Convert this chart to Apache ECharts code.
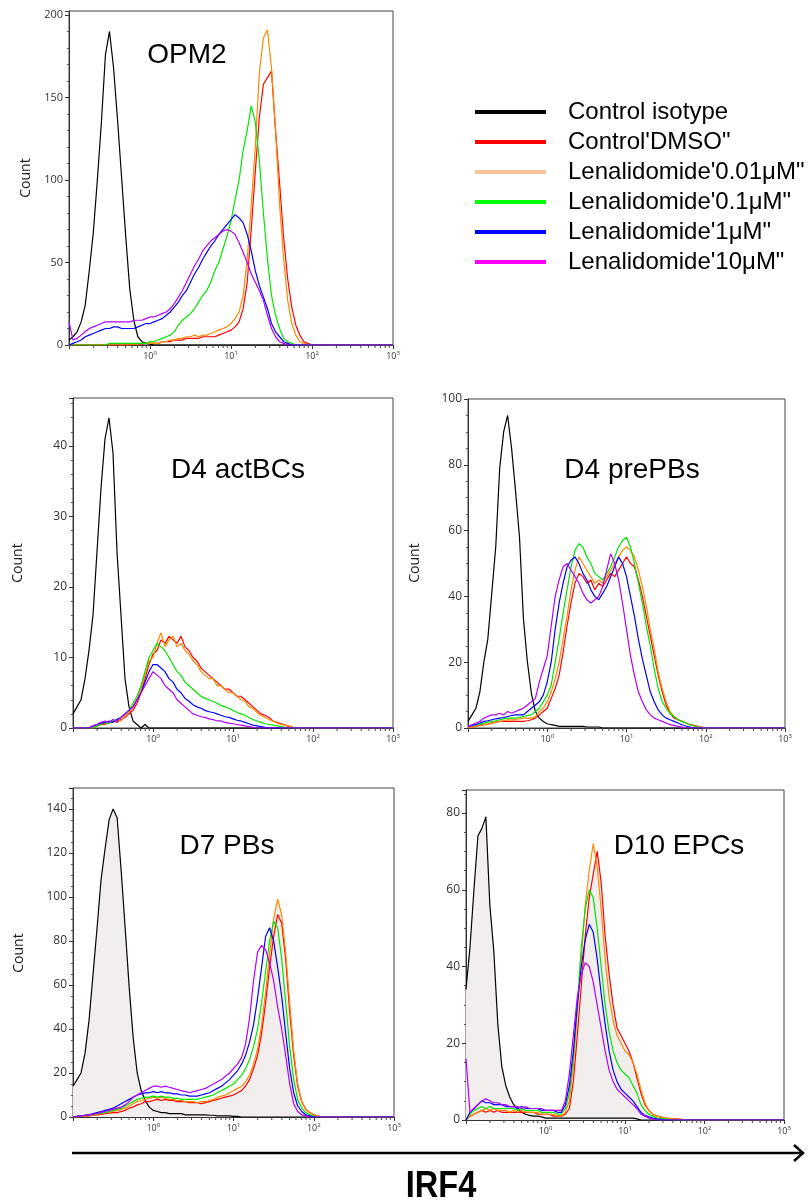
<!DOCTYPE html>
<html><head><meta charset="utf-8">
<script src="https://cdn.jsdelivr.net/npm/echarts@6/dist/echarts.min.js"></script>
<style>html,body{margin:0;padding:0;background:#fff}#c{width:808px;height:1203px}</style>
</head><body><div id="c"></div><script>
// x positions: log10(IRF4 intensity), shared by all histograms
const xLog = [
-1,-0.95,-0.9,-0.85,-0.8,-0.75,-0.7,-0.65,-0.6,-0.55,
-0.5,-0.45,-0.4,-0.35,-0.3,-0.25,-0.2,-0.15,-0.1,-0.05,
0,0.05,0.1,0.15,0.2,0.25,0.3,0.35,0.4,0.45,
0.5,0.55,0.6,0.65,0.7,0.75,0.8,0.85,0.9,0.95,
1,1.05,1.1,1.15,1.2,1.25,1.3,1.35,1.4,1.45,
1.5,1.55,1.6,1.65,1.7,1.75,1.8,1.85,1.9,1.95,
2,2.05,2.1,2.15,2.2,2.25,2.3,2.35,2.4,2.45,
2.5,2.55,2.6,2.65,2.7,2.75,2.8,2.85,2.9,2.95,3];

const seriesNames = ['Control isotype', 'Control\'DMSO"', 'Lenalidomide\'0.01\u03bcM"', 'Lenalidomide\'0.1\u03bcM"', 'Lenalidomide\'1\u03bcM"', 'Lenalidomide\'10\u03bcM"'];
const panelTitles = ['OPM2', 'D4 actBCs', 'D4 prePBs', 'D7 PBs', 'D10 EPCs'];
const decadeLabels = ['10', '10', '10', '10'];
const yMaxes = [202.4, 46.8, 100, 149.5, 86];
const yIntervals = [50, 10, 20, 20, 20];

// ---- OPM2 ----
const opmIso = [3,5,8,14,24,45,68,100,135,176, 190,168,136,101,66,34,15,5,2,1, 0.5,0,0,0,0,0,0,0,0,0, 0,0,0,0,0,0,0,0,0,0, 0,0,0,0,0,0,0,0,0,0, 0,0,0,0,0,0,0,0,0,0, 0,0,0,0,0,0,0,0,0,0, 0,0,0,0,0,0,0,0,0,0, 0];
const opmDmso = [0,0,0,0,0,0,0,0,0,0, 0,0,0,0,0,0,0.5,0.5,0.5,1, 1,1,1,2,2,2,3,3,3,4, 4,4,4,5,5,5,5,6,7,8, 9,11,14,22,38,70,105,138,158,162, 166,130,98,65,40,23,12,6,2,1, 0,0,0,0,0,0,0,0,0,0, 0,0,0,0,0,0,0,0,0,0, 0];
const opm001 = [0,0,0,0,0,0,0,0,0,0, 0,0,0,0,0,0,0.5,0.5,1,1, 1,1,1,2,2,3,3,4,4,5, 5,6,5,6,6,7,8,9,10,11, 13,16,20,30,52,85,120,165,186,191, 168,130,85,52,27,13,6,2,1,0, 0,0,0,0,0,0,0,0,0,0, 0,0,0,0,0,0,0,0,0,0, 0];
const opm01 = [0,0,0,0,0,0,0,0,0,0, 1,1,1,1,1,1,1,1,1,1, 2,2,3,4,5,6,8,12,15,17, 19,22,26,30,33,38,45,50,58,66, 75,88,100,118,130,145,135,112,80,52, 30,18,10,4,2,1,0,0,0,0, 0,0,0,0,0,0,0,0,0,0, 0,0,0,0,0,0,0,0,0,0, 0];
const opm1 = [0,1,2,3,5,6,7,8,9,10, 10,11,11,10,10,10,10,11,12,13, 13,14,15,16,18,20,23,26,30,33, 38,43,47,52,56,60,63,67,70,73, 76,79,77,74,67,57,45,36,29,22, 13,8,5,2,1,0,0,0,0,0, 0,0,0,0,0,0,0,0,0,0, 0,0,0,0,0,0,0,0,0,0, 0];
const opm10 = [14,3,4,6,8,10,11,12,13,14, 14,14,14,14,14,14,15,15,15,16, 17,17,18,19,20,22,25,29,33,38, 43,48,52,57,60,63,65,67,69,70, 69,67,62,56,50,43,38,33,27,18, 10,5,2,1,0,0,0,0,0,0, 0,0,0,0,0,0,0,0,0,0, 0,0,0,0,0,0,0,0,0,0, 0];

// ---- D4 actBCs ----
const actIso = [2,3,4,7,11,16,25,34,41,44, 39,25,16,7,3,1,0.5,0,0.5,0, 0,0,0,0,0,0,0,0,0,0, 0,0,0,0,0,0,0,0,0,0, 0,0,0,0,0,0,0,0,0,0, 0,0,0,0,0,0,0,0,0,0, 0,0,0,0,0,0,0,0,0,0, 0,0,0,0,0,0,0,0,0,0, 0];
const actDmso = [0,0,0,0,0,0,0.3,0.5,0.5,0.8, 1,0.8,1.2,1.5,2,2.5,3.5,5,7,9, 10.5,11,12.5,12,13,12.5,12,13,11.5,11, 10,9.5,8.5,8,7.5,7,6.5,6,5.5,5.5, 5,4.5,4.5,4,3.5,3,2.5,2,1.8,1.5, 1,0.8,0.6,0.4,0.2,0.1,0,0,0,0, 0,0,0,0,0,0,0,0,0,0, 0,0,0,0,0,0,0,0,0,0, 0];
const act001 = [0,0,0,0,0,0,0.5,0.8,0.6,0.9, 0.8,1.2,1,1.8,2.2,3,4,5.5,7.5,9.5, 10,12,13.5,11.5,12.5,13,11.5,12,11,10.5, 9.5,9,8,7.5,7,7,6,6,5.5,5, 5,4.5,4,3.8,3,2.8,2.2,1.8,1.5,1.2, 1,0.7,0.5,0.4,0.3,0.1,0,0,0,0, 0,0,0,0,0,0,0,0,0,0, 0,0,0,0,0,0,0,0,0,0, 0];
const act01 = [0,0,0,0,0,0,0.3,0.5,0.8,0.6, 1,1.2,1.5,2,2.5,3.5,4.5,6,8,10, 11,12,11.5,11,10,9,8,7.5,6.5,6, 5.5,5,4.5,4.2,4,3.8,3.5,3.2,3,2.8, 2.5,2.2,2,1.8,1.5,1.2,1,0.8,0.6,0.5, 0.4,0.3,0.2,0.1,0,0,0,0,0,0, 0,0,0,0,0,0,0,0,0,0, 0,0,0,0,0,0,0,0,0,0, 0];
const act1 = [0,0,0,0,0,0.3,0.5,0.7,0.8,1, 0.8,1.2,1.5,2,2.5,3,4,5,6.5,8, 9,9,8.5,8,7,6.5,5.5,5,4.2,3.8, 3.3,3,2.8,2.5,2.3,2.2,2,1.8,1.6,1.5, 1.3,1.1,1,0.8,0.6,0.4,0.3,0.2,0.1,0, 0,0,0,0,0,0,0,0,0,0, 0,0,0,0,0,0,0,0,0,0, 0,0,0,0,0,0,0,0,0,0, 0];
const act10 = [0,0,0,0,0,0.3,0.5,0.8,1,0.8, 1.2,1,1.5,2,2.5,3,4,5,6,7, 8,7.5,7,6,5.5,5,4,3.5,3,2.5, 2,1.8,1.6,1.5,1.3,1.2,1,1,0.8,0.7, 0.6,0.5,0.4,0.3,0.2,0.1,0,0,0,0, 0,0,0,0,0,0,0,0,0,0, 0,0,0,0,0,0,0,0,0,0, 0,0,0,0,0,0,0,0,0,0, 0];

// ---- D4 prePBs ----
const preIso = [2,4,6,11,20,27,41,55,79,90, 95,85,72,58,33,20,10.5,5,3,2, 1.3,1,0.8,0.5,0.5,0.5,0.5,0.5,0.5,0.5, 0.3,0.3,0.3,0.3,0,0,0,0,0,0, 0,0,0,0,0,0,0,0,0,0, 0,0,0,0,0,0,0,0,0,0, 0,0,0,0,0,0,0,0,0,0, 0,0,0,0,0,0,0,0,0,0, 0];
const preDmso = [0,0.3,0.5,0.8,1,1.2,1.5,1.8,2,2, 2,2,2,2,2,2.2,2.5,3,4,5, 6,9,12,16,23,31,38,44,47,46, 44,45,42,44,43,45,47,46,48,50, 52,50,49,45,40,34,28,22,16,11, 7,4.5,3,2.5,2,1.5,1,0.8,0.5,0.3, 0,0,0,0,0,0,0,0,0,0, 0,0,0,0,0,0,0,0,0,0, 0];
const pre001 = [0,0.3,0.5,0.8,1,1.2,1.5,1.8,2,2.2, 2.5,2.5,2.5,2.8,3,3,3,3.5,5,6, 8,11,15,20,27,34,42,48,52,50, 48,46,44,45,44,46,48,50,52,54, 55,54,52,48,43,37,30,24,17,12, 8,5,3.5,2.5,2,1.5,1,0.7,0.4,0.2, 0,0,0,0,0,0,0,0,0,0, 0,0,0,0,0,0,0,0,0,0, 0];
const pre01 = [0.5,0.8,1,1.2,1.5,1.8,2,2.2,2.5,2.8, 3,3,3,3.2,3.5,3.8,4,5,6,8, 10,13,20,27,35,42,49,54,56,55, 52,50,47,46,45,47,49,52,55,57, 58,55,50,44,38,31,25,18,12,8, 6,4.5,3.5,2.5,2,1.5,1,0.6,0.3,0.1, 0,0,0,0,0,0,0,0,0,0, 0,0,0,0,0,0,0,0,0,0, 0];
const pre1 = [0.5,0.8,1,1.5,2,2.2,2.5,2.8,3,3.2, 3.5,3.8,4,4,4,5,6,7,8,10, 14,20,30,38,44,49,51,52,50,47, 45,42,40,39,41,43,46,49,52,50, 46,40,34,27,21,16,11,8,5.5,4, 3,2.5,2,1.5,1,0.6,0.3,0,0,0, 0,0,0,0,0,0,0,0,0,0, 0,0,0,0,0,0,0,0,0,0, 0];
const pre10 = [0.5,1,1.5,2,3,3.5,4,4,4.5,4, 5,4.5,5,5.5,6,7,8,9,14,18, 22,31,40,45,49,50,48,46,44,41, 39,38,39,40,43,48,53,50,45,38, 30,22,16,11,8,5.5,4,3,2.5,2, 1.5,1,0.8,0.5,0.3,0,0,0,0,0, 0,0,0,0,0,0,0,0,0,0, 0,0,0,0,0,0,0,0,0,0, 0];

// ---- D7 PBs ----
const d7Iso = [14,17,20,29,44,65,86,108,122,135, 140,136,112,86,59,36,20,12,7.5,4.5, 3,2.5,2,2,1.5,1.5,1.5,1.5,1,1, 1,1,1,1,0.8,0.8,0.5,0.5,0.5,0.5, 0.3,0.3,0,0,0,0,0,0,0,0, 0,0,0,0,0,0,0,0,0,0, 0,0,0,0,0,0,0,0,0,0, 0,0,0,0,0,0,0,0,0,0, 0];
const d7Dmso = [0,0,0.3,0.4,0.5,0.8,1,1.2,1.5,1.8, 2,2,2.5,3,4,4.5,5.5,6,7,7, 7.5,8,7.5,8,7.5,7.5,7,7,7,6.5, 6.5,6.5,6,6.5,7,7.5,8,8.5,9,9.5, 10,11,12,14,17,22,28,38,52,68, 82,92,88,72,48,28,14,7,3.5,2, 1,0.5,0,0,0,0,0,0,0,0, 0,0,0,0,0,0,0,0,0,0, 0];
const d7001 = [0,0,0.3,0.5,0.8,1,1.2,1.5,1.8,2.2, 2.5,3,3.5,4,5,6,7,7.5,8,8.5, 9,8.5,9,8.5,8,8,7.5,7.5,7,7, 7,6.5,7,7,7.5,8,9,9.5,10,11, 12,13,14,16,19,24,31,42,57,74, 90,99,92,75,52,30,15,7,3.5,2, 1,0.5,0,0,0,0,0,0,0,0, 0,0,0,0,0,0,0,0,0,0, 0];
const d701 = [0,0.3,0.5,0.8,1,1.2,1.5,1.8,2,2.5, 3,3.5,4,5,6,7,8,8.5,9,9, 9.5,9,9.5,9,9,8.5,8.5,8,8,8, 8,8,8.5,9,9.5,10,11,12,13,14, 15,17,19,22,26,32,40,52,66,80, 89,86,72,52,32,17,8,4,2,1, 0.5,0,0,0,0,0,0,0,0,0, 0,0,0,0,0,0,0,0,0,0, 0];
const d71 = [0,0.3,0.5,0.8,1,1.5,2,2.5,3,3.5, 4,5,6,7,8,9,10,10.5,11,11, 11.5,11,11.5,11,11,10.5,10.5,10,10,9.5, 9.5,9.5,10,10.5,11,12,13,14,15.5,17, 19,21,24,28,34,42,54,68,82,86, 80,68,55,38,22,11,5,2.5,1,0.5, 0,0,0,0,0,0,0,0,0,0, 0,0,0,0,0,0,0,0,0,0, 0];
const d710 = [0,0.3,0.5,0.8,1,1.3,1.6,2,2.5,3, 3.5,4,4.5,5.5,7,9,10,11,12,13, 14,14,13.5,14,13.5,13,12.5,12,11.5,11, 11.5,12,12.5,13,14,15,16,17,18.5,20, 22,24,27,33,45,62,75,78,76,70, 62,50,40,28,15,6,2.5,1,0.5,0, 0,0,0,0,0,0,0,0,0,0, 0,0,0,0,0,0,0,0,0,0, 0];

// ---- D10 EPCs ----
const d10Iso = [34,45,60,74,76,79,56,44,25,14, 9,6,4,3,2,1.5,1.2,1,1,0.8, 0.5,0.5,0.5,0.5,0.5,0.5,0.5,0.5,0.5,0.5, 0.5,0.5,0.5,0.5,0.5,0.5,0.5,0.5,0.5,0.5, 0.5,0.5,0.5,0.3,0,0,0,0,0,0, 0,0,0,0,0,0,0,0,0,0, 0,0,0,0,0,0,0,0,0,0, 0,0,0,0,0,0,0,0,0,0, 0];
const d10Dmso = [0,1,1.5,2,2.5,2,2.5,2,2.5,2, 2,2,2,2,2,2,2,2,1.5,1.5, 1.5,1.5,1,1,1,1.5,3,10,22,35, 48,58,64,70,62,48,38,30,24,22, 20,18,15,11,7,4,2.5,1.5,1,0.8, 0.5,0.4,0.3,0.3,0.2,0.1,0,0,0,0, 0,0,0,0,0,0,0,0,0,0, 0,0,0,0,0,0,0,0,0,0, 0];
const d10001 = [0,1,1.5,2,2.5,3,2.5,3,2.5,2.5, 2.5,2,2.5,2,2.5,2,2,2,2,1.5, 1.5,1.5,1.5,1,1,2,5,14,28,42, 56,65,72,66,55,42,32,26,22,20, 18,17,15,12,8,4.5,2.5,1.5,1,0.8, 0.5,0.4,0.3,0.3,0.2,0.1,0,0,0,0, 0,0,0,0,0,0,0,0,0,0, 0,0,0,0,0,0,0,0,0,0, 0];
const d1001 = [0,1.5,2.5,3,3.5,3,3.5,3,3,3, 3,3,3,2.5,3,2.5,2.5,2.5,2.5,2, 2,2,2,1.5,1.5,3,7,16,30,45, 55,60,58,50,40,30,23,18,15,13, 12,11,9,7,4,2.5,1.5,1,0.5,0.4, 0.3,0.2,0,0,0,0,0,0,0,0, 0,0,0,0,0,0,0,0,0,0, 0,0,0,0,0,0,0,0,0,0, 0];
const d101 = [0,2,3,4,5,4.5,4.5,4,4,4, 3.5,3.5,3.5,3,3.5,3,3,3,3,2.5, 2.5,2.5,2.5,2,2,4,9,18,30,40, 47,51,49,42,33,25,18,13,10,8, 7,6,5,3.5,2,1.2,0.8,0.5,0.3,0.2, 0,0,0,0,0,0,0,0,0,0, 0,0,0,0,0,0,0,0,0,0, 0,0,0,0,0,0,0,0,0,0, 0];
const d1010 = [16,2,3,4,5,5.5,5,4.5,4.5,4, 4,3.5,3.5,3.5,3,3.5,3,3,3,3, 2.5,2.5,2.5,2.5,2.5,5,12,22,32,38, 41,40,36,30,24,18,13,10,8,7, 6,5,4,3,1.5,1,0.5,0.3,0,0, 0,0,0,0,0,0,0,0,0,0, 0,0,0,0,0,0,0,0,0,0, 0,0,0,0,0,0,0,0,0,0, 0];

const panelData = [
  [opmIso, opmDmso, opm001, opm01, opm1, opm10],
  [actIso, actDmso, act001, act01, act1, act10],
  [preIso, preDmso, pre001, pre01, pre1, pre10],
  [d7Iso, d7Dmso, d7001, d701, d71, d710],
  [d10Iso, d10Dmso, d10001, d1001, d101, d1010]
];

// ---- styles / layout ----
const lineColors = ['#000000', '#ff0000', '#ff8800', '#00e600', '#0000ff', '#b000ff'];
const legendColors = ['#000000', '#ff0000', '#f7c39b', '#00ff00', '#0000ff', '#ff00ff'];
const layout = [
  {left: 69, top: 11, width: 324, height: 334, tx: 187, ty: 55, cx: 26, cy: 178, yFont: 11, ySplit: 5, fill: null},
  {left: 73, top: 398, width: 320, height: 330, tx: 238, ty: 470, cx: 18, cy: 563, yFont: 12, ySplit: 5, fill: null},
  {left: 468, top: 399, width: 317, height: 329, tx: 632, ty: 470, cx: 415, cy: 563, yFont: 12, ySplit: 4, fill: null},
  {left: 73, top: 788, width: 321, height: 329, tx: 227, ty: 846, cx: 19, cy: 953, yFont: 12, ySplit: 4, fill: 2},
  {left: 466, top: 790, width: 318, height: 330, tx: 679, ty: 846, cx: null, cy: null, yFont: 12, ySplit: 4, fill: 1}
];
// log-scale minor tick positions (axis decoration)
const minorLog = [];
[-1, 0, 1, 2].forEach(d => { for (let k = 2; k <= 9; k++) minorLog.push(d + Math.log10(k)); });

const series = [];
panelData.forEach((arrs, p) => {
  const L = layout[p];
  if (L.fill !== null) {
    [0, L.fill].forEach(si => series.push({
      type: 'line', name: 'fill' + p + '_' + si, xAxisIndex: p, yAxisIndex: p,
      data: xLog.map((x, i) => [x, arrs[si][i]]), symbol: 'none',
      lineStyle: {width: 0, opacity: 0}, areaStyle: {color: '#f3eeee', opacity: 1},
      z: 1, silent: true
    }));
  }
  arrs.forEach((arr, si) => series.push({
    type: 'line', name: seriesNames[si], xAxisIndex: p, yAxisIndex: p,
    data: xLog.map((x, i) => [x, arr[i]]), symbol: 'none', showSymbol: false,
    lineStyle: {color: lineColors[si], width: 1.2}, itemStyle: {color: lineColors[si]},
    z: 2 + si, silent: true
  }));
  series.push({
    type: 'custom', name: 'minor' + p, xAxisIndex: p, yAxisIndex: p, silent: true, clip: false, z: 10,
    data: minorLog.map(v => [v, 0]),
    renderItem: (params, api) => {
      const c = api.coord([api.value(0), 0]);
      return {type: 'line', shape: {x1: c[0], y1: c[1], x2: c[0], y2: c[1] + 3}, style: {stroke: '#444', lineWidth: 1}};
    }
  });
});

const graphics = [];
layout.forEach((L, p) => {
  graphics.push({type: 'text', x: L.tx, y: L.ty, silent: true,
    style: {text: panelTitles[p], fontSize: 28, fontFamily: '"Liberation Sans", Arial, sans-serif', fill: '#000', align: 'center', verticalAlign: 'middle'}});
  if (L.cx !== null) graphics.push({type: 'text', x: L.cx, y: L.cy, rotation: Math.PI / 2, silent: true,
    style: {text: 'Count', fontSize: 14, fontFamily: '"Open Sans", sans-serif', fill: '#222', align: 'center', verticalAlign: 'middle'}});
});
graphics.push({type: 'line', silent: true, shape: {x1: 72, y1: 1153, x2: 802, y2: 1153}, style: {stroke: '#000', lineWidth: 2.5}});
graphics.push({type: 'polyline', silent: true, shape: {points: [[794, 1145], [803, 1153], [794, 1161]]}, style: {stroke: '#000', lineWidth: 2.5, fill: null}});
graphics.push({type: 'text', x: 441, y: 1187, scaleX: 0.88, silent: true,
  style: {text: 'IRF4', fontSize: 37, fontWeight: 'bold', fontFamily: '"Liberation Sans Narrow", "Liberation Sans", Arial, sans-serif', fill: '#000', align: 'center', verticalAlign: 'middle'}});

const option = {
  animation: false,
  backgroundColor: '#fff',
  grid: layout.map(L => ({left: L.left, top: L.top, width: L.width, height: L.height, show: true, borderColor: '#444', borderWidth: 1})),
  xAxis: layout.map((L, p) => ({
    gridIndex: p, type: 'value', min: -1, max: 3, interval: 1,
    axisLine: {show: true, onZero: false, lineStyle: {color: '#333', width: 1}},
    axisTick: {show: true, length: 4, lineStyle: {color: '#333'}},
    splitLine: {show: false},
    axisLabel: {
      margin: 5,
      formatter: v => (v >= 0 && Math.abs(v - Math.round(v)) < 1e-6) ? '{b|' + decadeLabels[Math.round(v)] + '}{s|' + Math.round(v) + '}' : '',
      rich: {
        b: {fontSize: 9, fontFamily: '"Open Sans", sans-serif', color: '#333', lineHeight: 12},
        s: {fontSize: 6, fontFamily: '"Open Sans", sans-serif', color: '#333', lineHeight: 6, verticalAlign: 'top'}
      }
    }
  })),
  yAxis: layout.map((L, p) => ({
    gridIndex: p, type: 'value', min: 0, max: yMaxes[p], interval: yIntervals[p],
    axisLine: {show: true, onZero: false, lineStyle: {color: '#333', width: 1}},
    axisTick: {show: true, length: 4, lineStyle: {color: '#333'}},
    minorTick: {show: true, splitNumber: L.ySplit, length: 2, lineStyle: {color: '#555'}},
    splitLine: {show: false}, minorSplitLine: {show: false},
    axisLabel: {
      fontSize: L.yFont, fontFamily: '"Open Sans", sans-serif', color: '#333', margin: 6,
      formatter: v => Math.abs(v / yIntervals[p] - Math.round(v / yIntervals[p])) < 1e-6 ? String(Math.round(v)) : ''
    }
  })),
  legend: {
    orient: 'vertical', left: 470, top: 95, itemWidth: 71, itemHeight: 4, itemGap: 6,
    icon: 'rect', selectedMode: false,
    textStyle: {fontSize: 24, lineHeight: 24, fontFamily: '"Liberation Sans", Arial, sans-serif', color: '#000', padding: [0, 0, 0, 17]},
    data: seriesNames.map((n, i) => ({name: n, icon: 'rect', itemStyle: {color: legendColors[i]}}))
  },
  graphic: graphics,
  series: series
};
const chart = echarts.init(document.getElementById('c'), null, {renderer: 'canvas'});
chart.setOption(option);
</script></body></html>
